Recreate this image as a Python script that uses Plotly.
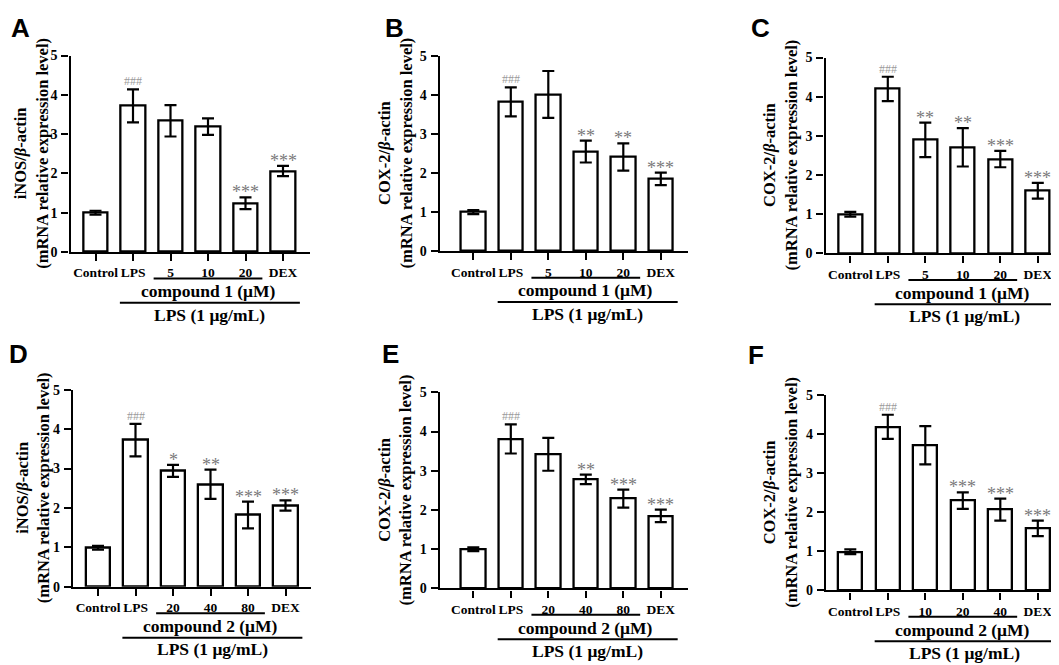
import plotly.graph_objects as go

W, H = 1059, 665

# tick labels
groups_c1 = ["Control", "LPS", "5", "10", "20", "DEX"]
groups_c2a = ["Control", "LPS", "20", "40", "80", "DEX"]
groups_c2b = ["Control", "LPS", "10", "20", "40", "DEX"]

# mean and SD
a_mean = [1.00, 3.72, 3.34, 3.19, 1.24, 2.06]
a_err = [0.05, 0.42, 0.40, 0.21, 0.15, 0.13]
b_mean = [1.00, 3.82, 4.01, 2.55, 2.41, 1.85]
b_err = [0.05, 0.37, 0.60, 0.28, 0.35, 0.16]
c_mean = [1.00, 4.20, 2.90, 2.71, 2.41, 1.60]
c_err = [0.06, 0.31, 0.44, 0.49, 0.21, 0.20]
d_mean = [0.99, 3.72, 2.94, 2.60, 1.82, 2.06]
d_err = [0.05, 0.41, 0.15, 0.37, 0.34, 0.13]
e_mean = [1.00, 3.81, 3.42, 2.78, 2.29, 1.85]
e_err = [0.05, 0.37, 0.42, 0.12, 0.23, 0.16]
f_mean = [0.99, 4.19, 3.72, 2.30, 2.07, 1.59]
f_err = [0.06, 0.31, 0.49, 0.21, 0.28, 0.20]

# significance marks
a_sig = ["", "###", "", "", "***", "***"]
b_sig = ["", "###", "", "**", "**", "***"]
c_sig = ["", "###", "**", "**", "***", "***"]
d_sig = ["", "###", "*", "**", "***", "***"]
e_sig = ["", "###", "", "**", "***", "***"]
f_sig = ["", "###", "", "***", "***", "***"]

inos = "iNOS"
cox = "COX-2"

panels = [
    # letter, gene, compound, labels, mean, err, sig, axis left, axis right, y0 px, y5 px, first bar px, title x, letter x/y
    ("A", inos, "compound 1", groups_c1, a_mean, a_err, a_sig, 62.5, 302, 242.5, 41.5, 87.5, 23, 12, 13),
    ("B", cox, "compound 1", groups_c1, b_mean, b_err, b_sig, 431.7, 680, 241.7, 41.7, 465.3, 387, 386, 13),
    ("C", cox, "compound 1", groups_c1, c_mean, c_err, c_sig, 817.5, 1045, 244, 43.5, 842.3, 772, 752, 13),
    ("D", inos, "compound 2", groups_c2a, d_mean, d_err, d_sig, 65, 303, 585, 383.3, 90, 25, 10, 347),
    ("E", cox, "compound 2", groups_c2a, e_mean, e_err, e_sig, 431.7, 680, 586.7, 386, 465.3, 387, 382, 347),
    ("F", cox, "compound 2", groups_c2b, f_mean, f_err, f_sig, 818, 1045, 588.7, 389, 842.3, 772, 748, 348),
]

SERIF = "Liberation Serif"
SP = 37.5  # px between bars

fig = go.Figure()
annotations = []
shapes = []

for i, (letter, gene, comp, labels, mean, err, sig, axl, axr, y0p, y5p, c0, tx, lx, ly) in enumerate(panels, start=1):
    xa = "x" if i == 1 else f"x{i}"
    ya = "y" if i == 1 else f"y{i}"
    xr = [(axl - c0) / SP, (axr - c0) / SP]

    fig.add_trace(go.Bar(
        x=list(range(len(labels))), y=mean, width=0.65,
        marker=dict(color="white", line=dict(color="black", width=2.3)),
        error_y=dict(type="data", array=err, color="black", thickness=2.2, width=6),
        xaxis=xa, yaxis=ya, showlegend=False,
    ))

    fig.update_layout(**{
        ("xaxis" if i == 1 else f"xaxis{i}"): dict(
            domain=[axl / W, axr / W], anchor=ya, range=xr,
            tickvals=list(range(len(labels))), ticktext=labels,
            ticks="outside", ticklen=7, tickwidth=2, tickcolor="black",
            showline=True, linewidth=2.2, linecolor="black",
            showgrid=False, zeroline=False, ticklabelstandoff=0,
            tickfont=dict(family=SERIF, size=13.5, color="black", weight="bold"),
        ),
        ("yaxis" if i == 1 else f"yaxis{i}"): dict(
            domain=[1 - y0p / H, 1 - y5p / H], anchor=xa, range=[0, 5],
            tickvals=[0, 1, 2, 3, 4, 5],
            ticks="outside", ticklen=7, tickwidth=2, tickcolor="black",
            showline=True, linewidth=2.2, linecolor="black",
            showgrid=False, zeroline=False, ticklabelstandoff=1,
            tickfont=dict(family=SERIF, size=14, color="black", weight="bold"),
        ),
    })

    # significance marks above error bars
    for k, s in enumerate(sig):
        if not s:
            continue
        hash_mark = s.startswith("#")
        annotations.append(dict(
            x=k, y=mean[k] + err[k], xref=xa, yref=ya, text=s, showarrow=False,
            xanchor="center", yanchor="bottom", yshift=-1 if hash_mark else -7,
            font=dict(family=SERIF, size=12 if hash_mark else 18,
                      color="#9a9a9a" if hash_mark else "#7a7a7a"),
        ))

    # panel letter
    annotations.append(dict(
        x=lx / W, y=1 - ly / H, xref="paper", yref="paper", text=f"<b>{letter}</b>",
        showarrow=False, xanchor="center", yanchor="middle",
        font=dict(family="Liberation Sans", size=26, color="black"),
    ))

    # y title
    annotations.append(dict(
        x=tx / W, y=1 - (y0p + y5p) / 2 / H, xref="paper", yref="paper",
        text=f"<b>{gene}/<i>β</i>-actin<br>(mRNA relative expression level)</b>",
        showarrow=False, textangle=-90, xanchor="center", yanchor="middle",
        font=dict(family=SERIF, size=16.5, color="black"),
    ))

    # treatment brackets below the axis
    comp_y = 1 - (y0p + 27) / H
    lps_y = 1 - (y0p + 52) / H
    shapes.append(dict(type="line", xref=xa, yref="paper", x0=1.55, x1=4.45, y0=comp_y, y1=comp_y,
                       line=dict(color="black", width=2)))
    shapes.append(dict(type="line", xref=xa, yref="paper", x0=0.65, x1=5.45, y0=lps_y, y1=lps_y,
                       line=dict(color="black", width=2)))
    annotations.append(dict(
        x=3, y=1 - (y0p + 40) / H, xref=xa, yref="paper", text=f"<b>{comp} (μM)</b>",
        showarrow=False, xanchor="center", yanchor="middle",
        font=dict(family=SERIF, size=17.5, color="black"),
    ))
    annotations.append(dict(
        x=3.05, y=1 - (y0p + 64) / H, xref=xa, yref="paper", text="<b>LPS (1 μg/mL)</b>",
        showarrow=False, xanchor="center", yanchor="middle",
        font=dict(family=SERIF, size=17.5, color="black"),
    ))

fig.update_layout(
    width=W, height=H, margin=dict(l=0, r=0, t=0, b=0),
    paper_bgcolor="white", plot_bgcolor="white",
    annotations=annotations, shapes=shapes, bargap=0,
)

fig.write_html("out.html")
